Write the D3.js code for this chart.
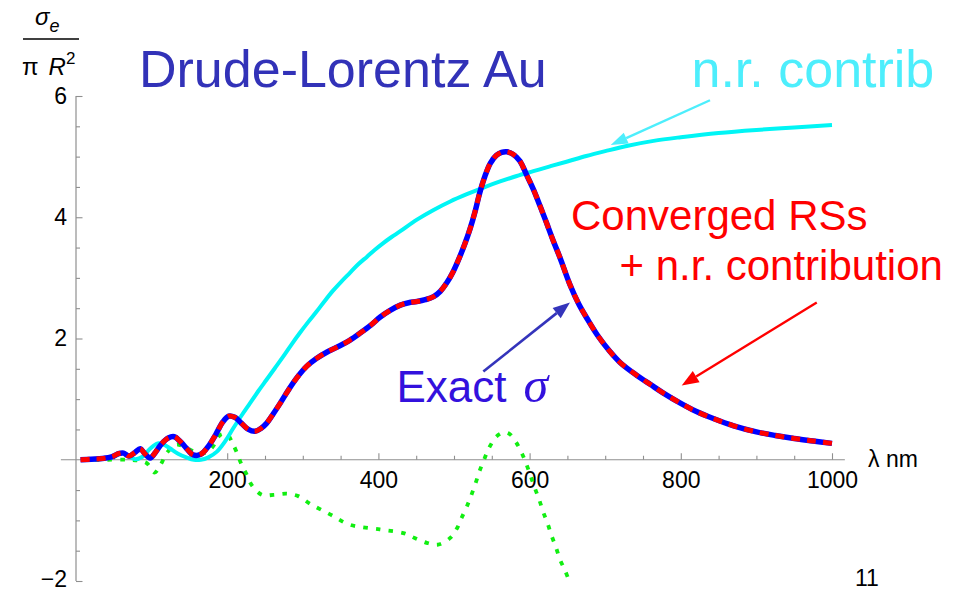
<!DOCTYPE html>
<html>
<head>
<meta charset="utf-8">
<script src="https://cdn.jsdelivr.net/npm/d3@7"></script>
<style>
  html, body { margin: 0; padding: 0; background: #fff; }
  svg { display: block; }
  text { font-family: "Liberation Sans", Arial, sans-serif; }
</style>
</head>
<body>
<svg id="chart" width="954" height="591"></svg>
<script>
// Extinction cross-section of a Drude-Lorentz gold sphere, sigma_e / (pi R^2) vs wavelength (nm)

// exact cross-section
const exactSigma = [
  [6,0.00],[20,0.01],[35,0.02],[48,0.05],[56,0.10],[63,0.11],[70,0.06],[78,0.12],[85,0.18],[91,0.10],
  [98,0.03],[105,0.12],[113,0.26],[122,0.36],[130,0.38],[138,0.30],[146,0.19],[155,0.08],[165,0.09],
  [175,0.22],[185,0.42],[194,0.62],[202,0.72],[210,0.70],[219,0.60],[228,0.50],[237,0.47],[245,0.52],
  [252,0.60],[261,0.76],[270,0.93],[281,1.15],[292,1.35],[305,1.54],[318,1.67],[334,1.79],[349,1.88],
  [362,1.97],[376,2.09],[390,2.22],[402,2.35],[415,2.46],[429,2.55],[440,2.59],[451,2.61],[462,2.64],
  [473,2.69],[482,2.78],[490,2.91],[498,3.08],[506,3.30],[514,3.55],[521,3.80],[528,4.10],[534,4.40],
  [541,4.68],[548,4.89],[556,5.02],[563,5.07],[570,5.08],[578,5.04],[587,4.93],[596,4.70],[605,4.46],
  [614,4.18],[622,3.92],[631,3.62],[640,3.34],[653,2.90],[665,2.57],[676,2.33],[690,2.05],[706,1.79],
  [720,1.60],[742,1.39],[760,1.24],[777,1.10],[800,0.93],[820,0.80],[843,0.68],[870,0.56],[900,0.46],
  [925,0.40],[950,0.35],[975,0.31],[1000,0.27]
];

// converged resonant states + non-resonant contribution (same curve, dashed)
const convergedRS = exactSigma.map(d => d.slice());

// non-resonant contribution
const nrContrib = [
  [8,0.00],[30,0.01],[50,0.05],[62,0.11],[70,0.06],[78,0.01],[88,0.05],[98,0.18],[108,0.27],[116,0.25],
  [124,0.19],[135,0.10],[146,0.04],[156,0.00],[165,0.00],[175,0.04],[186,0.13],[197,0.30],[208,0.52],
  [219,0.73],[230,0.93],[241,1.13],[252,1.32],[263,1.51],[274,1.70],[285,1.90],[296,2.09],[307,2.27],
  [318,2.44],[329,2.62],[340,2.79],[351,2.94],[362,3.08],[373,3.22],[385,3.35],[395,3.46],[406,3.57],
  [417,3.67],[429,3.77],[451,3.96],[473,4.12],[495,4.26],[517,4.38],[539,4.49],[561,4.59],[583,4.68],
  [605,4.76],[627,4.84],[650,4.92],[675,5.01],[700,5.09],[730,5.18],[764,5.26],[800,5.32],[850,5.39],
  [900,5.44],[950,5.48],[1000,5.52]
];

// resonant-state part alone (dotted)
const rsOnly = [
  [8,0.00],[40,0.00],[70,0.00],[85,-0.02],[94,-0.06],[104,-0.21],[112,-0.08],[120,0.11],[133,0.25],
  [145,0.20],[158,0.13],[170,0.11],[180,0.20],[191,0.41],[200,0.42],[206,0.30],[212,0.14],[219,-0.08],
  [226,-0.25],[232,-0.41],[246,-0.58],[261,-0.58],[279,-0.56],[294,-0.60],[310,-0.73],[336,-0.90],
  [362,-1.07],[402,-1.15],[433,-1.21],[448,-1.29],[464,-1.37],[479,-1.40],[495,-1.29],[504,-1.13],
  [510,-0.96],[517,-0.77],[523,-0.58],[529,-0.37],[534,-0.18],[540,0.01],[547,0.21],[556,0.38],
  [566,0.45],[574,0.42],[582,0.29],[590,0.10],[596,-0.08],[607,-0.47],[613,-0.67],[618,-0.86],
  [624,-1.06],[629,-1.25],[635,-1.45],[640,-1.64],[647,-1.83],[653,-2.02]
];

// axis ticks
const xMajorTicks = [200, 400, 600, 800, 1000];
const xMinorTicks = [50, 100, 150, 250, 300, 350, 450, 500, 550, 650, 700, 750, 850, 900, 950];
const yMajorTicks = [-2, 2, 4, 6];
const yMinorTicks = [-1.5, -1, -0.5, 0.5, 1, 1.5, 2.5, 3, 3.5, 4.5, 5, 5.5];
const xAxisExtent = [-20, 1017];

// annotation arrows: [from, to] in data units
const arrowNr    = [[838.6, 5.93], [707.3, 5.19]];
const arrowExact = [[538.8, 1.455], [653.4, 2.593]];
const arrowConv  = [[979.8, 2.593], [801.2, 1.225]];

const svg = d3.select("#chart");
svg.append("rect").attr("width", 954).attr("height", 591).attr("fill", "#fff");

const x = d3.scaleLinear().domain([0, 1000]).range([76, 832]);
const y = d3.scaleLinear().domain([-2, 6]).range([581, 96]);

const axisColor = "#8f8f8f";

// ---- axes ----
const gx = svg.append("g").attr("transform", `translate(0,${y(0)})`);
gx.append("line")
  .attr("x1", x(xAxisExtent[0])).attr("x2", x(xAxisExtent[1]))
  .attr("stroke", axisColor).attr("stroke-width", 1.2);
gx.append("g").call(d3.axisBottom(x).tickValues(xMinorTicks).tickSize(-4).tickFormat(""))
  .call(g => g.select(".domain").remove());
gx.append("g").call(d3.axisBottom(x).tickValues(xMajorTicks).tickSize(-6.5).tickPadding(12).tickFormat(d3.format("d")))
  .call(g => g.select(".domain").remove())
  .call(g => g.selectAll(".tick text").attr("font-size", 23).attr("fill", "#000")
    .attr("font-family", "'Liberation Sans', Arial, sans-serif"));
gx.selectAll(".tick line").attr("stroke", axisColor).attr("stroke-width", 1.1);

const gy = svg.append("g").attr("transform", `translate(${x(0)},0)`);
gy.append("line")
  .attr("y1", y(-2)).attr("y2", y(6))
  .attr("stroke", axisColor).attr("stroke-width", 1.2);
gy.append("g").call(d3.axisLeft(y).tickValues(yMinorTicks).tickSize(-4).tickFormat(""))
  .call(g => g.select(".domain").remove());
gy.append("g").call(d3.axisLeft(y).tickValues(yMajorTicks).tickSize(-6.5).tickPadding(9).tickFormat(d => d < 0 ? "\u2212" + Math.abs(d) : d))
  .call(g => g.select(".domain").remove())
  .call(g => g.selectAll(".tick text").attr("font-size", 23).attr("fill", "#000")
    .attr("font-family", "'Liberation Sans', Arial, sans-serif")
    .attr("dy", d => d < 0 ? "0.22em" : "0.32em"));
gy.selectAll(".tick line").attr("stroke", axisColor).attr("stroke-width", 1.1);

// axis labels
svg.append("text").attr("x", 868).attr("y", 467).attr("font-size", 23).attr("fill", "#000")
  .text("\u03bb nm");

const yl = svg.append("g");
yl.append("text").attr("x", 35).attr("y", 25).attr("font-size", 24).attr("font-style", "italic").attr("fill", "#000")
  .text("\u03c3")
  .append("tspan").attr("font-size", 18).attr("dy", 7).text("e");
yl.append("line").attr("x1", 23).attr("x2", 79).attr("y1", 39).attr("y2", 39)
  .attr("stroke", "#000").attr("stroke-width", 1.5);
const den = yl.append("text").attr("x", 22).attr("y", 75).attr("font-size", 24).attr("fill", "#000");
den.append("tspan").text("\u03c0");
den.append("tspan").attr("font-style", "italic").attr("dx", 10).text("R");
den.append("tspan").attr("font-size", 17).attr("dy", -11).text("2");

// ---- curves ----
const clipId = "plotClip";
svg.append("clipPath").attr("id", clipId).append("rect")
  .attr("x", x(xAxisExtent[0])).attr("y", y(6) - 20)
  .attr("width", x(xAxisExtent[1]) - x(xAxisExtent[0])).attr("height", y(-2) - y(6) + 22);

const line = d3.line().x(d => x(d[0])).y(d => y(d[1])).curve(d3.curveCatmullRom.alpha(0.5));
const plot = svg.append("g").attr("clip-path", `url(#${clipId})`);

plot.append("path").datum(rsOnly).attr("d", line)
  .attr("fill", "none").attr("stroke", "#11ee11").attr("stroke-width", 3.8)
  .attr("stroke-dasharray", "4.5,8.2");

plot.append("path").datum(nrContrib).attr("d", line)
  .attr("fill", "none").attr("stroke", "#00f5f5").attr("stroke-width", 4);

plot.append("path").datum(exactSigma).attr("d", line)
  .attr("fill", "none").attr("stroke", "#0000ff").attr("stroke-width", 5.5);

plot.append("path").datum(convergedRS).attr("d", line)
  .attr("fill", "none").attr("stroke", "#ff0000").attr("stroke-width", 5)
  .attr("stroke-dasharray", "9,7");

// ---- annotations ----
function arrow(pts, color, width, headLen, headW) {
  const [p0, p1] = pts;
  const x0 = x(p0[0]), y0 = y(p0[1]), x1 = x(p1[0]), y1 = y(p1[1]);
  const a = Math.atan2(y1 - y0, x1 - x0);
  const bx = x1 - headLen * Math.cos(a), by = y1 - headLen * Math.sin(a);
  const g = svg.append("g");
  g.append("line").attr("x1", x0).attr("y1", y0).attr("x2", bx).attr("y2", by)
    .attr("stroke", color).attr("stroke-width", width);
  const nx = -Math.sin(a) * headW / 2, ny = Math.cos(a) * headW / 2;
  g.append("path")
    .attr("d", `M${x1},${y1}L${bx + nx},${by + ny}L${bx - nx},${by - ny}Z`)
    .attr("fill", color);
}
arrow(arrowNr, "#4deefc", 2.4, 17, 12);
arrow(arrowExact, "#3434bb", 2.6, 17, 13);
arrow(arrowConv, "#ff0000", 2.4, 17, 13);

svg.append("text").attr("x", 139).attr("y", 87).attr("font-size", 52).attr("fill", "#3232b8")
  .text("Drude-Lorentz Au");
svg.append("text").attr("x", 691.5).attr("y", 86.7).attr("font-size", 52).attr("fill", "#4deefc")
  .text("n.r. contrib");
svg.append("text").attr("x", 571).attr("y", 230).attr("font-size", 42).attr("fill", "#ff0000")
  .text("Converged RSs");
svg.append("text").attr("x", 619.5).attr("y", 280).attr("font-size", 42).attr("fill", "#ff0000")
  .text("+ n.r. contribution");
const ex = svg.append("text").attr("x", 396.5).attr("y", 401.7).attr("font-size", 44).attr("fill", "#3311dd");
ex.append("tspan").text("Exact");
ex.append("tspan").attr("font-family", "'Liberation Serif', 'Times New Roman', serif")
  .attr("font-style", "italic").attr("font-size", 50).attr("dx", 17).text("\u03c3");

svg.append("text").attr("x", 855).attr("y", 586).attr("font-size", 23).attr("fill", "#000").text("11");
</script>
</body>
</html>
